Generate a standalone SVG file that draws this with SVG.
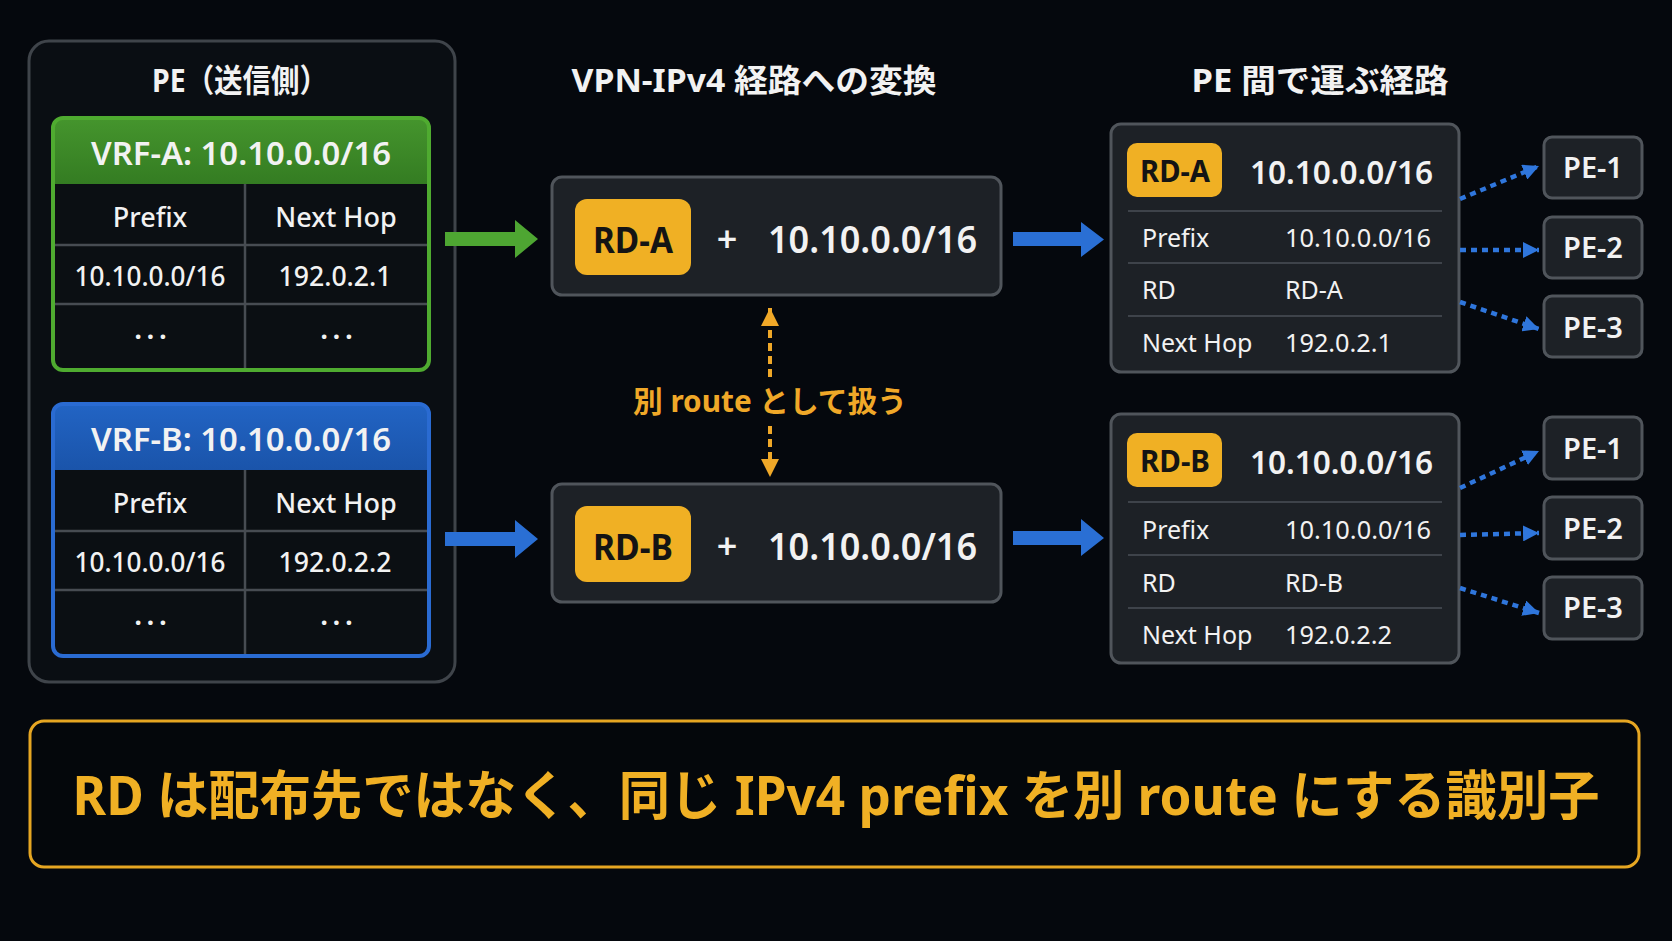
<svg xmlns="http://www.w3.org/2000/svg" width="1672" height="941" viewBox="0 0 1672 941">
<defs>
<style>
text{font-family:"Noto Sans","Noto Sans CJK JP",sans-serif;fill:#f2f2f2}
.title{font-size:32px;font-weight:700;text-anchor:middle}
.hdr{font-size:32px;font-weight:600;text-anchor:middle}
.cell{font-size:27px;font-weight:500;text-anchor:middle}
.dots{font-size:26px;font-weight:700;text-anchor:middle;letter-spacing:5px}
.badgeTxt{font-weight:700;fill:#141414;text-anchor:middle}
.big{font-weight:600;text-anchor:middle}
.row{font-size:25px;font-weight:400}
.pe{font-size:29px;font-weight:600;text-anchor:middle}
.panel{fill:#1d2126;stroke:#50555b;stroke-width:3}
.badge{fill:#f0b024}
.grid{stroke:#474c52;stroke-width:2.5}
.sep{stroke:#3e434a;stroke-width:2}
.dotblue{stroke:#2f76dc;stroke-width:4.5;stroke-dasharray:6 5;fill:none}
.dotorange{stroke:#f0a828;stroke-width:4;stroke-dasharray:8 5;fill:none}
</style>
<marker id="ab" viewBox="0 0 16 16" refX="16" refY="8" markerWidth="16" markerHeight="16" markerUnits="userSpaceOnUse" orient="auto">
<path d="M0,0 L16,8 L0,16 z" fill="#2f76dc"/>
</marker>
<marker id="ao" viewBox="0 0 18 18" refX="18" refY="9" markerWidth="18" markerHeight="18" markerUnits="userSpaceOnUse" orient="auto">
<path d="M0,0 L18,9 L0,18 z" fill="#f0a828"/>
</marker>
<linearGradient id="gGreen" x1="0" y1="0" x2="0" y2="1">
<stop offset="0" stop-color="#45952d"/>
<stop offset="1" stop-color="#347c22"/>
</linearGradient>
<linearGradient id="gBlue" x1="0" y1="0" x2="0" y2="1">
<stop offset="0" stop-color="#2264c4"/>
<stop offset="1" stop-color="#1a54aa"/>
</linearGradient>
</defs>
<rect x="0" y="0" width="1672" height="941" fill="#05080d"/>

<g id="pe-sender">
<rect x="29" y="41" width="426" height="641" rx="20" fill="#0a0e13" stroke="#3f444a" stroke-width="3"/>
<text class="title" x="240" y="92" textLength="176" lengthAdjust="spacingAndGlyphs">PE（送信側）</text>
</g>

<g id="vrf-a">
<rect x="53" y="118" width="376" height="252" rx="10" fill="#0b0f13"/>
<path d="M53,184 V128 a10,10 0 0 1 10,-10 H419 a10,10 0 0 1 10,10 V184 Z" fill="url(#gGreen)"/>
<line class="grid" x1="245" y1="184" x2="245" y2="370"/>
<line class="grid" x1="53" y1="245" x2="429" y2="245"/>
<line class="grid" x1="53" y1="304" x2="429" y2="304"/>
<rect x="53" y="118" width="376" height="252" rx="10" fill="none" stroke="#4fab30" stroke-width="4"/>
<text class="hdr" x="241" y="165" textLength="300" lengthAdjust="spacingAndGlyphs">VRF-A: 10.10.0.0/16</text>
<text class="cell" x="150" y="227">Prefix</text>
<text class="cell" x="336" y="227">Next Hop</text>
<text class="cell" x="150" y="286" textLength="151" lengthAdjust="spacingAndGlyphs">10.10.0.0/16</text>
<text class="cell" x="335" y="286" textLength="113" lengthAdjust="spacingAndGlyphs">192.0.2.1</text>
<text class="dots" x="153" y="346">···</text>
<text class="dots" x="339" y="346">···</text>
</g>

<g id="vrf-b" transform="translate(0,286)">
<rect x="53" y="118" width="376" height="252" rx="10" fill="#0b0f13"/>
<path d="M53,184 V128 a10,10 0 0 1 10,-10 H419 a10,10 0 0 1 10,10 V184 Z" fill="url(#gBlue)"/>
<line class="grid" x1="245" y1="184" x2="245" y2="370"/>
<line class="grid" x1="53" y1="245" x2="429" y2="245"/>
<line class="grid" x1="53" y1="304" x2="429" y2="304"/>
<rect x="53" y="118" width="376" height="252" rx="10" fill="none" stroke="#2a6bd2" stroke-width="4"/>
<text class="hdr" x="241" y="165" textLength="300" lengthAdjust="spacingAndGlyphs">VRF-B: 10.10.0.0/16</text>
<text class="cell" x="150" y="227">Prefix</text>
<text class="cell" x="336" y="227">Next Hop</text>
<text class="cell" x="150" y="286" textLength="151" lengthAdjust="spacingAndGlyphs">10.10.0.0/16</text>
<text class="cell" x="335" y="286" textLength="113" lengthAdjust="spacingAndGlyphs">192.0.2.2</text>
<text class="dots" x="153" y="346">···</text>
<text class="dots" x="339" y="346">···</text>
</g>

<g id="title-vpn">
<text class="title" x="754" y="92" textLength="365" lengthAdjust="spacingAndGlyphs">VPN-IPv4 経路への変換</text>
</g>

<g id="vpn-a">
<rect class="panel" x="552" y="177" width="449" height="118" rx="10"/>
<rect class="badge" x="575" y="199" width="116" height="76" rx="12"/>
<text class="badgeTxt" x="633" y="253" font-size="35" textLength="80" lengthAdjust="spacingAndGlyphs">RD-A</text>
<text class="big" x="727" y="252" font-size="36">+</text>
<text class="big" x="872.5" y="253" font-size="38" textLength="209" lengthAdjust="spacingAndGlyphs">10.10.0.0/16</text>
</g>

<g id="vpn-b" transform="translate(0,307)">
<rect class="panel" x="552" y="177" width="449" height="118" rx="10"/>
<rect class="badge" x="575" y="199" width="116" height="76" rx="12"/>
<text class="badgeTxt" x="633" y="253" font-size="35" textLength="80" lengthAdjust="spacingAndGlyphs">RD-B</text>
<text class="big" x="727" y="252" font-size="36">+</text>
<text class="big" x="872.5" y="253" font-size="38" textLength="209" lengthAdjust="spacingAndGlyphs">10.10.0.0/16</text>
</g>

<g id="label-separate">
<text x="770" y="412" font-size="30" font-weight="700" text-anchor="middle" style="fill:#f0a828" textLength="274" lengthAdjust="spacingAndGlyphs">別 route として扱う</text>
</g>

<g id="title-carry">
<text class="title" x="1320" y="92" textLength="257" lengthAdjust="spacingAndGlyphs">PE 間で運ぶ経路</text>
</g>

<g id="route-a">
<rect class="panel" x="1111" y="124" width="348" height="248" rx="10"/>
<rect class="badge" x="1127" y="143" width="95" height="54" rx="10"/>
<text class="badgeTxt" x="1175" y="182" font-size="30" textLength="70" lengthAdjust="spacingAndGlyphs">RD-A</text>
<text class="big" x="1341.5" y="184" font-size="33" textLength="183" lengthAdjust="spacingAndGlyphs">10.10.0.0/16</text>
<line class="sep" x1="1128" y1="211" x2="1442" y2="211"/>
<line class="sep" x1="1128" y1="263" x2="1442" y2="263"/>
<line class="sep" x1="1128" y1="316" x2="1442" y2="316"/>
<text class="row" x="1142" y="247">Prefix</text>
<text class="row" x="1285" y="247" textLength="146" lengthAdjust="spacingAndGlyphs">10.10.0.0/16</text>
<text class="row" x="1142" y="299">RD</text>
<text class="row" x="1285" y="299">RD-A</text>
<text class="row" x="1142" y="352">Next Hop</text>
<text class="row" x="1285" y="352" textLength="107" lengthAdjust="spacingAndGlyphs">192.0.2.1</text>
</g>

<g id="route-b" transform="translate(0,290)">
<rect class="panel" x="1111" y="124" width="348" height="249" rx="10"/>
<rect class="badge" x="1127" y="143" width="95" height="54" rx="10"/>
<text class="badgeTxt" x="1175" y="182" font-size="30" textLength="70" lengthAdjust="spacingAndGlyphs">RD-B</text>
<text class="big" x="1341.5" y="184" font-size="33" textLength="183" lengthAdjust="spacingAndGlyphs">10.10.0.0/16</text>
<line class="sep" x1="1128" y1="212" x2="1442" y2="212"/>
<line class="sep" x1="1128" y1="265" x2="1442" y2="265"/>
<line class="sep" x1="1128" y1="318" x2="1442" y2="318"/>
<text class="row" x="1142" y="249">Prefix</text>
<text class="row" x="1285" y="249" textLength="146" lengthAdjust="spacingAndGlyphs">10.10.0.0/16</text>
<text class="row" x="1142" y="302">RD</text>
<text class="row" x="1285" y="302">RD-B</text>
<text class="row" x="1142" y="354">Next Hop</text>
<text class="row" x="1285" y="354" textLength="107" lengthAdjust="spacingAndGlyphs">192.0.2.2</text>
</g>

<g id="pe-a1"><rect class="panel" x="1544" y="137" width="98" height="61" rx="8"/><text class="pe" x="1593" y="178">PE-1</text></g>
<g id="pe-a2"><rect class="panel" x="1544" y="217" width="98" height="61" rx="8"/><text class="pe" x="1593" y="258">PE-2</text></g>
<g id="pe-a3"><rect class="panel" x="1544" y="296" width="98" height="61" rx="8"/><text class="pe" x="1593" y="338">PE-3</text></g>
<g id="pe-b1"><rect class="panel" x="1544" y="417" width="98" height="62" rx="8"/><text class="pe" x="1593" y="459">PE-1</text></g>
<g id="pe-b2"><rect class="panel" x="1544" y="497" width="98" height="62" rx="8"/><text class="pe" x="1593" y="539">PE-2</text></g>
<g id="pe-b3"><rect class="panel" x="1544" y="577" width="98" height="62" rx="8"/><text class="pe" x="1593" y="618">PE-3</text></g>

<g id="summary">
<rect x="30" y="721" width="1609" height="146" rx="14" fill="#04070b" stroke="#e6a622" stroke-width="3"/>
<text x="836" y="815" font-size="53" font-weight="700" text-anchor="middle" style="fill:#f0b024" textLength="1527" lengthAdjust="spacingAndGlyphs">RD は配布先ではなく、同じ IPv4 prefix を別 route にする識別子</text>
</g>

<g id="connectors">
<polygon points="445,232 515,232 515,220 538,239 515,258 515,246 445,246" fill="#4ea632"/>
<polygon points="445,532 515,532 515,520 538,539 515,558 515,546 445,546" fill="#2a6fd4"/>
<polygon points="1013,232 1081,232 1081,222 1104,239.5 1081,257 1081,246 1013,246" fill="#2a6fd4"/>
<polygon points="1013,531 1081,531 1081,519 1104,538 1081,556 1081,545 1013,545" fill="#2a6fd4"/>
<line class="dotorange" x1="770" y1="377" x2="770" y2="308" marker-end="url(#ao)"/>
<line class="dotorange" x1="770" y1="426" x2="770" y2="477" marker-end="url(#ao)"/>
<line class="dotblue" x1="1460" y1="199" x2="1539" y2="166" marker-end="url(#ab)"/>
<line class="dotblue" x1="1460" y1="250" x2="1539" y2="250" marker-end="url(#ab)"/>
<line class="dotblue" x1="1460" y1="302" x2="1539" y2="329" marker-end="url(#ab)"/>
<line class="dotblue" x1="1460" y1="488" x2="1539" y2="451" marker-end="url(#ab)"/>
<line class="dotblue" x1="1460" y1="535" x2="1539" y2="533" marker-end="url(#ab)"/>
<line class="dotblue" x1="1460" y1="588" x2="1539" y2="613" marker-end="url(#ab)"/>
</g>
</svg>
